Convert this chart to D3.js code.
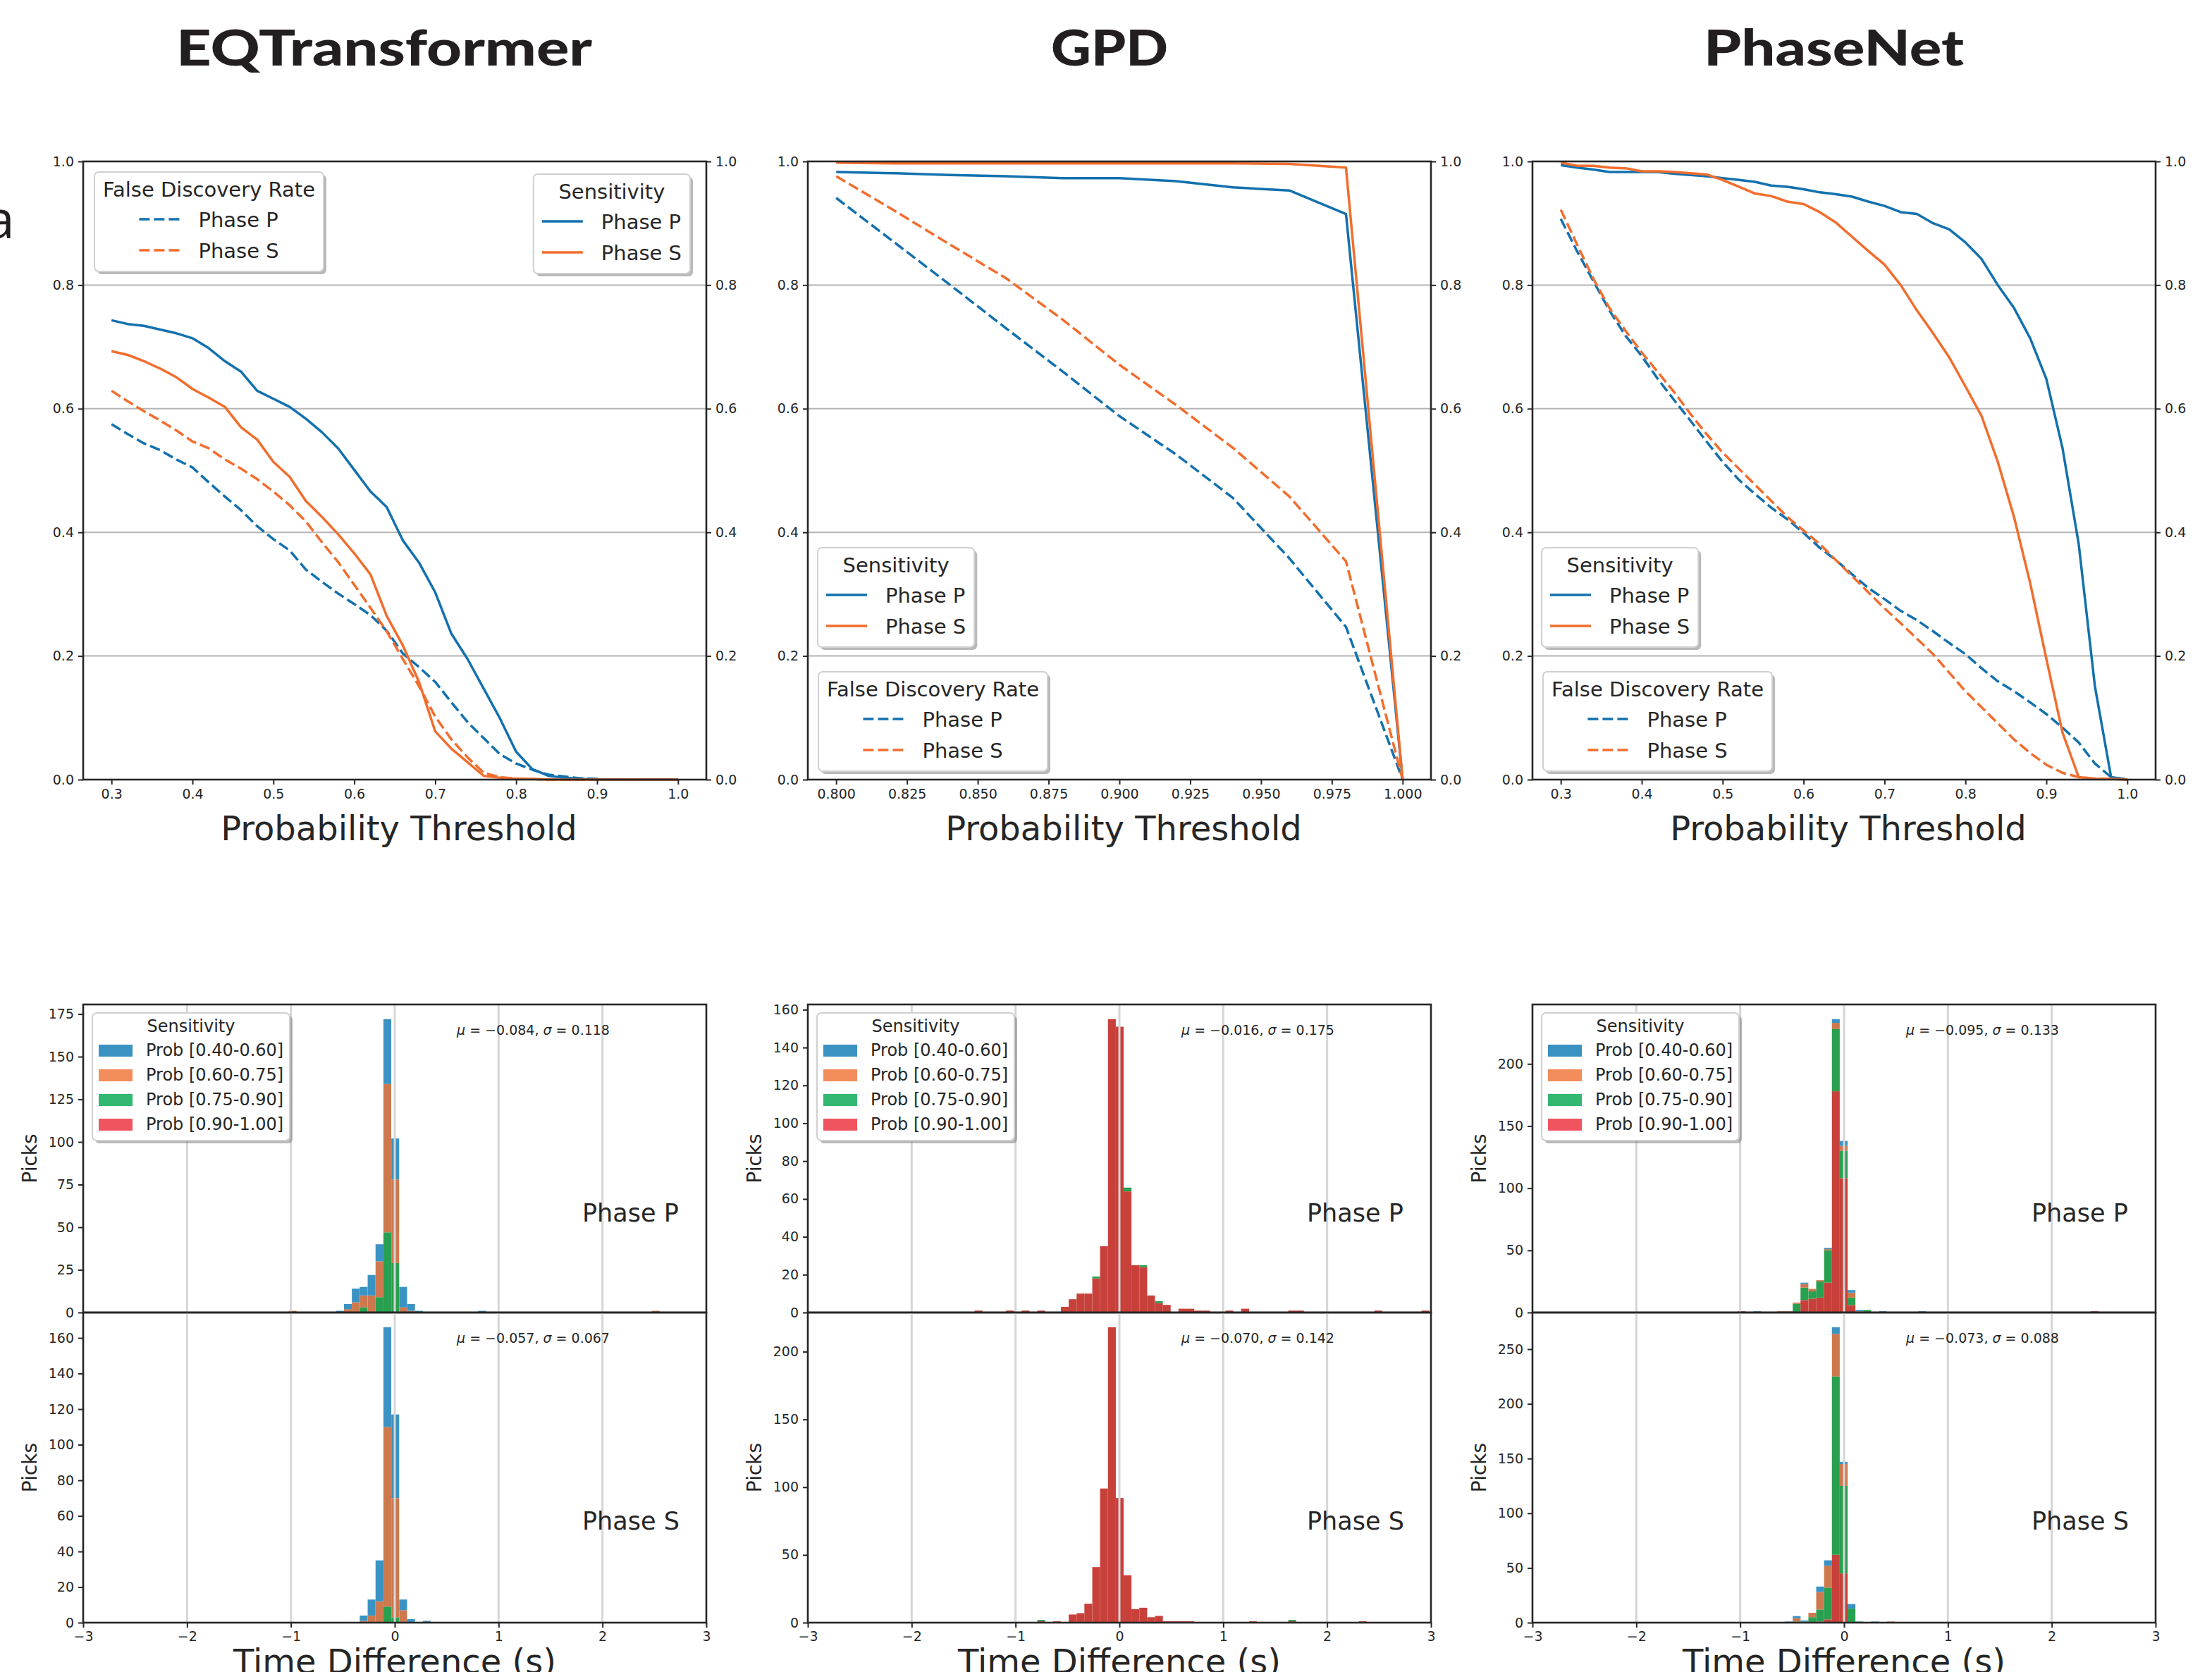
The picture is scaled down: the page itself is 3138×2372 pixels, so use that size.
<!DOCTYPE html>
<html><head><meta charset="utf-8">
<script src="https://cdn.jsdelivr.net/npm/d3@7"></script>
<style>
body{margin:0;background:#fff}
svg{display:block;background:#fff}
</style>
</head><body>
<svg id="c" width="3138" height="2372"></svg>
<script>
// ---------------- DATA ----------------
const models = ["EQTransformer", "GPD", "PhaseNet"];
const thresholdsWide = [0.30,0.32,0.34,0.36,0.38,0.40,0.42,0.44,0.46,0.48,0.50,0.52,0.54,0.56,0.58,0.60,0.62,0.64,0.66,0.68,0.70,0.72,0.74,0.76,0.78,0.80,0.82,0.84,0.86,0.88,0.90,0.92,0.94,0.96,0.98,1.00];
const thresholdsGPD = [0.80,0.82,0.84,0.86,0.88,0.90,0.92,0.94,0.96,0.98,1.00];

const eqtSensP = [0.743,0.737,0.734,0.728,0.722,0.714,0.698,0.677,0.660,0.629,0.616,0.603,0.584,0.562,0.536,0.501,0.466,0.441,0.387,0.351,0.303,0.236,0.195,0.147,0.099,0.045,0.017,0.006,0.003,0.001,0,0,0,0,0,0];
const eqtSensS = [0.693,0.687,0.677,0.665,0.651,0.632,0.618,0.603,0.570,0.550,0.514,0.490,0.451,0.425,0.397,0.366,0.332,0.265,0.217,0.158,0.078,0.050,0.028,0.006,0.003,0.0015,0.001,0,0,0,0,0,0,0,0,0];
const eqtFdrP = [0.575,0.559,0.544,0.533,0.518,0.505,0.481,0.458,0.436,0.410,0.389,0.371,0.340,0.320,0.301,0.284,0.266,0.241,0.204,0.182,0.158,0.125,0.093,0.067,0.041,0.026,0.016,0.008,0.005,0.002,0.001,0,0,0,0,0];
const eqtFdrS = [0.629,0.612,0.596,0.581,0.565,0.547,0.536,0.518,0.503,0.486,0.466,0.444,0.418,0.384,0.352,0.315,0.278,0.240,0.195,0.151,0.102,0.065,0.036,0.011,0.004,0.0015,0.001,0,0,0,0,0,0,0,0,0];

const gpdSensP = [0.983,0.981,0.978,0.976,0.973,0.973,0.968,0.958,0.953,0.915,0];
const gpdSensS = [0.998,0.997,0.997,0.997,0.997,0.997,0.997,0.997,0.996,0.990,0];
const gpdFdrP = [0.941,0.871,0.801,0.730,0.660,0.588,0.526,0.456,0.358,0.247,0];
const gpdFdrS = [0.976,0.922,0.866,0.811,0.744,0.671,0.606,0.537,0.458,0.353,0];

const pnSensP = [0.994,0.990,0.987,0.983,0.983,0.983,0.983,0.980,0.978,0.976,0.973,0.970,0.967,0.961,0.959,0.955,0.950,0.947,0.943,0.935,0.928,0.918,0.915,0.900,0.890,0.869,0.842,0.800,0.763,0.714,0.648,0.536,0.381,0.151,0.004,0];
const pnSensS = [0.998,0.993,0.993,0.990,0.989,0.984,0.984,0.983,0.981,0.979,0.970,0.959,0.948,0.944,0.935,0.931,0.918,0.901,0.878,0.855,0.833,0.800,0.759,0.722,0.683,0.636,0.588,0.514,0.425,0.318,0.195,0.076,0.004,0.0015,0.001,0];
const pnFdrP = [0.907,0.855,0.807,0.759,0.718,0.685,0.648,0.614,0.581,0.547,0.514,0.485,0.462,0.440,0.421,0.399,0.375,0.355,0.332,0.310,0.292,0.273,0.258,0.240,0.221,0.203,0.180,0.159,0.143,0.125,0.106,0.084,0.060,0.026,0.004,0];
const pnFdrS = [0.922,0.866,0.811,0.763,0.726,0.691,0.659,0.627,0.592,0.559,0.529,0.503,0.477,0.451,0.425,0.403,0.381,0.355,0.329,0.303,0.277,0.253,0.228,0.203,0.173,0.143,0.117,0.091,0.065,0.043,0.024,0.011,0.004,0.0015,0.001,0];

const ticksWide = [0.3,0.4,0.5,0.6,0.7,0.8,0.9,1.0];
const ticksGPD = [0.800,0.825,0.850,0.875,0.900,0.925,0.950,0.975,1.000];
const ticksY = [0.0,0.2,0.4,0.6,0.8,1.0];

// histogram bins: [left edge (s), Prob[0.40-0.60], Prob[0.60-0.75], Prob[0.75-0.90], Prob[0.90-1.00]]
const binWidth = 0.0755;
const probClasses = ["Prob [0.40-0.60]", "Prob [0.60-0.75]", "Prob [0.75-0.90]", "Prob [0.90-1.00]"];
const eqtHistP = [[-1.021,0,1,0,0],[-0.565,1,0,0,0],[-0.489,3,2,0,0],[-0.413,8,6,0,0],[-0.337,5,7,3,0],[-0.261,12,10,0,0],[-0.185,10,21,9,0],[-0.109,38,87,47,0],[-0.033,24,49,29,0],[0.043,12,3,0,0],[0.119,4,1,0,0],[0.195,1,0,0,0],[0.803,1,0,0,0],[2.475,0,1,0,0]];
const eqtHistS = [[-0.337,3,1,0,0],[-0.261,9,4,0,0],[-0.185,23,12,0,0],[-0.109,56,101,9,0],[-0.033,47,67,3,0],[0.043,6,7,0,0],[0.119,2,0,0,0],[0.271,1,0,0,0]];
const gpdHistP = [[-1.394,0,0,0,1],[-1.092,0,0,0,1],[-0.941,0,0,0,1],[-0.790,0,0,0,1],[-0.563,0,0,0,3],[-0.488,0,0,0,7],[-0.412,0,0,0,10],[-0.337,0,0,0,10],[-0.261,0,0,1,18],[-0.186,0,0,0,35],[-0.110,0,0,0,155],[-0.035,0,0,0,151],[0.041,0,0,2,64],[0.116,0,0,0,25],[0.192,0,0,1,24],[0.267,0,0,0,9],[0.343,0,0,1,5],[0.418,0,0,0,4],[0.569,0,0,0,2],[0.645,0,0,0,2],[0.720,0,0,0,1],[0.796,0,0,0,1],[1.022,0,0,0,1],[1.173,0,0,0,2],[1.626,0,0,0,1],[1.701,0,0,0,1],[2.456,0,0,0,1],[2.909,0,0,0,1]];
const gpdHistS = [[-0.790,0,0,1,1],[-0.639,0,0,0,1],[-0.488,0,0,0,6],[-0.412,0,0,0,7],[-0.337,0,0,0,14],[-0.261,0,0,0,41],[-0.186,0,0,0,99],[-0.110,0,0,0,218],[-0.035,0,0,0,92],[0.041,0,0,0,35],[0.116,0,0,0,10],[0.192,0,0,0,11],[0.267,0,0,0,4],[0.343,0,0,0,5],[0.418,0,0,0,1],[0.494,0,0,0,1],[0.569,0,0,0,1],[0.645,0,0,0,1],[1.248,0,0,0,1],[1.626,0,0,1,1],[2.306,0,0,0,1]];
const pnHistP = [[-1.023,0,0,0,1],[-0.872,1,0,0,0],[-0.645,0,1,0,0],[-0.570,0,1,0,0],[-0.494,0,1,7,0],[-0.419,1,3,10,10],[-0.343,0,2,6,11],[-0.268,0,1,13,12],[-0.192,1,1,26,24],[-0.117,3,5,50,178],[-0.041,4,4,22,108],[0.034,2,4,6,6],[0.110,1,1,0,0],[0.185,0,0,2,0],[0.336,1,0,0,0],[0.714,1,0,0,0],[2.375,0,0,0,1]];
const pnHistS = [[-0.570,1,0,0,0],[-0.494,2,3,1,0],[-0.419,1,0,1,0],[-0.343,0,4,5,0],[-0.268,5,16,11,1],[-0.192,5,20,29,3],[-0.117,6,39,163,62],[-0.041,2,20,80,45],[0.034,4,0,13,0],[0.110,0,0,1,0],[0.261,1,0,0,0],[0.412,0,1,0,0]];

const statsP = [[-0.084,0.118],[-0.016,0.175],[-0.095,0.133]];
const statsS = [[-0.057,0.067],[-0.070,0.142],[-0.073,0.088]];
const histTicksP = [[0,25,50,75,100,125,150,175],[0,20,40,60,80,100,120,140,160],[0,50,100,150,200]];
const histTicksS = [[0,20,40,60,80,100,120,140,160],[0,50,100,150,200],[0,50,100,150,200,250]];
const histTicksX = [-3,-2,-1,0,1,2,3];

// ---------------- STYLE / LAYOUT ----------------
const FONT = "DejaVu Sans";
const INK = "#262626";
const cBlue = "#1371ae", cOrange = "#f26d2d";
const barColors = ["#3a93c3", "#ce784e", "#28a04f", "#c8403a"];
const swatchColors = ["#3a92c2", "#f48d5c", "#33b872", "#f0545e"];
const colLeft = [118, 1146, 2174];
const plotW = 884;
const topRange = [1106, 229];
const hP = [1862, 1425], hS = [2302, 1862];

const svg = d3.select("#c");
const root = svg.append("g").attr("font-family", FONT).attr("fill", INK);

function measure(str, fs) {
  const t = root.append("text").attr("font-size", fs).text(str);
  const w = t.node().getComputedTextLength(); t.remove(); return w;
}
function styleAxis(g, fs) {
  g.select(".domain").remove();
  g.selectAll(".tick line").attr("stroke", INK).attr("stroke-width", 2);
  g.selectAll(".tick text").attr("font-size", fs).attr("font-family", FONT).attr("fill", INK);
}

// panel label "a"
root.append("text").attr("x", -21).attr("y", 338).attr("font-family", "Open Sans")
  .attr("font-size", 75).attr("fill", "#231f20").text("a");

// titles
const titleBox = [[250, 590], [1491, 166], [2417, 369]];
models.forEach((m, i) => {
  root.append("text").attr("x", titleBox[i][0]).attr("y", 93)
    .attr("font-family", "Lato").attr("font-weight", 900).attr("font-size", 71)
    .attr("fill", "#231f20").attr("textLength", titleBox[i][1]).attr("lengthAdjust", "spacingAndGlyphs")
    .text(m);
});

// ---------------- TOP PANELS ----------------
const topPanels = [
  {t: thresholdsWide, sP: eqtSensP, sS: eqtSensS, fP: eqtFdrP, fS: eqtFdrS, xd: [0.265, 1.035], ticks: ticksWide, fmt: d3.format(".1f")},
  {t: thresholdsGPD, sP: gpdSensP, sS: gpdSensS, fP: gpdFdrP, fS: gpdFdrS, xd: [0.79, 1.01], ticks: ticksGPD, fmt: d3.format(".3f")},
  {t: thresholdsWide, sP: pnSensP, sS: pnSensS, fP: pnFdrP, fS: pnFdrS, xd: [0.265, 1.035], ticks: ticksWide, fmt: d3.format(".1f")}
];

function lineLegend(g, o) {
  const fs = 29;
  const tw = measure(o.title, fs);
  const lw = d3.max(o.items, d => measure(d.label, fs));
  const blockW = 58 + 26 + lw;
  const w = Math.max(tw, blockW) + 24, h = 141;
  const x = o.right != null ? o.right - w : o.x, y = o.y;
  g.append("rect").attr("x", x + 4).attr("y", y + 4).attr("width", w).attr("height", h).attr("rx", 6)
    .attr("fill", "#808080").attr("opacity", 0.55);
  g.append("rect").attr("x", x).attr("y", y).attr("width", w).attr("height", h).attr("rx", 6)
    .attr("fill", "#fff").attr("stroke", "#d0d0d0").attr("stroke-width", 2);
  const cx = x + w / 2;
  g.append("text").attr("x", cx).attr("y", y + 35).attr("text-anchor", "middle").attr("font-size", fs).text(o.title);
  const bl = cx - blockW / 2;
  o.items.forEach((d, i) => {
    const by = y + 78 + 44 * i;
    g.append("line").attr("x1", bl).attr("x2", bl + 58).attr("y1", by - 11).attr("y2", by - 11)
      .attr("stroke", d.color).attr("stroke-width", 3.5).attr("stroke-dasharray", d.dash ? "15,6" : null);
    g.append("text").attr("x", bl + 84).attr("y", by).attr("font-size", fs).text(d.label);
  });
}
const sensItems = [{label: "Phase P", color: cBlue}, {label: "Phase S", color: cOrange}];
const fdrItems = [{label: "Phase P", color: cBlue, dash: true}, {label: "Phase S", color: cOrange, dash: true}];
const legendPos = [
  [{title: "False Discovery Rate", items: fdrItems, x: 134, y: 244}, {title: "Sensitivity", items: sensItems, right: 979, y: 247}],
  [{title: "Sensitivity", items: sensItems, x: 1160, y: 777}, {title: "False Discovery Rate", items: fdrItems, x: 1161, y: 953}],
  [{title: "Sensitivity", items: sensItems, x: 2187, y: 777}, {title: "False Discovery Rate", items: fdrItems, x: 2189, y: 953}]
];

topPanels.forEach((p, i) => {
  const L = colLeft[i];
  const g = root.append("g");
  const x = d3.scaleLinear().domain(p.xd).range([L, L + plotW]);
  const y = d3.scaleLinear().domain([0, 1]).range(topRange);
  // grid
  g.selectAll(".gy").data(ticksY.slice(1, -1)).join("line")
    .attr("x1", L).attr("x2", L + plotW).attr("y1", d => y(d)).attr("y2", d => y(d))
    .attr("stroke", "#b4b4b4").attr("stroke-width", 2);
  const series = [
    {v: p.fP, c: cBlue, dash: true}, {v: p.fS, c: cOrange, dash: true},
    {v: p.sP, c: cBlue, dash: false}, {v: p.sS, c: cOrange, dash: false}
  ];
  const line = d3.line().x(d => x(d[0])).y(d => y(d[1]));
  series.forEach(s => {
    g.append("path").attr("d", line(p.t.map((t, k) => [t, s.v[k]])))
      .attr("fill", "none").attr("stroke", s.c).attr("stroke-width", 3.5)
      .attr("stroke-linejoin", "round").attr("stroke-dasharray", s.dash ? "15,6" : null);
  });
  // axes
  g.append("g").attr("transform", `translate(0,${topRange[0]})`)
    .call(d3.axisBottom(x).tickValues(p.ticks).tickFormat(p.fmt).tickSize(7).tickPadding(7))
    .call(a => styleAxis(a, 19));
  g.append("g").attr("transform", `translate(${L},0)`)
    .call(d3.axisLeft(y).tickValues(ticksY).tickFormat(d3.format(".1f")).tickSize(7).tickPadding(6))
    .call(a => styleAxis(a, 19));
  g.append("g").attr("transform", `translate(${L + plotW},0)`)
    .call(d3.axisRight(y).tickValues(ticksY).tickFormat(d3.format(".1f")).tickSize(7).tickPadding(6))
    .call(a => styleAxis(a, 19));
  g.append("rect").attr("x", L).attr("y", topRange[1]).attr("width", plotW).attr("height", topRange[0] - topRange[1])
    .attr("fill", "none").attr("stroke", INK).attr("stroke-width", 2.6);
  g.append("text").attr("x", L + plotW / 2 + 6).attr("y", 1192).attr("text-anchor", "middle")
    .attr("font-size", 48).text("Probability Threshold");
  legendPos[i].forEach(o => lineLegend(g, o));
});

// ---------------- HISTOGRAMS ----------------
const histSets = [[eqtHistP, eqtHistS], [gpdHistP, gpdHistS], [pnHistP, pnHistS]];

function histLegend(g, x, y) {
  const w = 280, h = 181;
  g.append("rect").attr("x", x + 4).attr("y", y + 4).attr("width", w).attr("height", h).attr("rx", 6)
    .attr("fill", "#808080").attr("opacity", 0.55);
  g.append("rect").attr("x", x).attr("y", y).attr("width", w).attr("height", h).attr("rx", 6)
    .attr("fill", "#fff").attr("stroke", "#d0d0d0").attr("stroke-width", 2);
  g.append("text").attr("x", x + w / 2).attr("y", y + 27).attr("text-anchor", "middle").attr("font-size", 24).text("Sensitivity");
  probClasses.forEach((c, k) => {
    const by = y + 61 + 35 * k;
    g.append("rect").attr("x", x + 9).attr("y", by - 16).attr("width", 48).attr("height", 17).attr("fill", swatchColors[k]);
    g.append("text").attr("x", x + 76).attr("y", by).attr("font-size", 24).text(c);
  });
}

histSets.forEach((pair, i) => {
  const L = colLeft[i];
  const x = d3.scaleLinear().domain([-3, 3]).range([L, L + plotW]);
  pair.forEach((bins, j) => {
    const range = j === 0 ? hP : hS;
    const g = root.append("g");
    const maxTot = d3.max(bins, b => b[1] + b[2] + b[3] + b[4]);
    const y = d3.scaleLinear().domain([0, maxTot * 1.05]).range(range);
    // stacked bars: bottom->top = [0.90-1.00], [0.75-0.90], [0.60-0.75], [0.40-0.60]
    const order = [4, 3, 2, 1];
    const rects = [];
    bins.forEach(b => {
      let cum = 0;
      order.forEach(k => {
        if (b[k] > 0) { rects.push({x0: b[0], lo: cum, hi: cum + b[k], k: k - 1}); cum += b[k]; }
      });
    });
    g.selectAll("rect.bar").data(rects).join("rect").attr("class", "bar")
      .attr("x", d => x(d.x0)).attr("width", d => x(d.x0 + binWidth) - x(d.x0))
      .attr("y", d => y(d.hi)).attr("height", d => y(d.lo) - y(d.hi))
      .attr("fill", d => barColors[d.k]);
    // vertical grid over bars
    g.selectAll("line.gx").data([-2, -1, 0, 1, 2]).join("line").attr("class", "gx")
      .attr("x1", d => x(d)).attr("x2", d => x(d)).attr("y1", range[0]).attr("y2", range[1])
      .attr("stroke", "#d6d6d6").attr("stroke-width", 3);
    // y axis
    g.append("g").attr("transform", `translate(${L},0)`)
      .call(d3.axisLeft(y).tickValues(j === 0 ? histTicksP[i] : histTicksS[i]).tickFormat(d3.format("d")).tickSize(7).tickPadding(6))
      .call(a => styleAxis(a, 19));
    if (j === 1) {
      g.append("g").attr("transform", `translate(0,${range[0]})`)
        .call(d3.axisBottom(x).tickValues(histTicksX).tickFormat(d3.format("d")).tickSize(7).tickPadding(6))
        .call(a => styleAxis(a, 19));
    }
    g.append("rect").attr("x", L).attr("y", range[1]).attr("width", plotW).attr("height", range[0] - range[1])
      .attr("fill", "none").attr("stroke", INK).attr("stroke-width", 2.6);
    // Picks label
    const cy = (range[0] + range[1]) / 2;
    g.append("text").attr("transform", `translate(${L - 66},${cy}) rotate(-90)`).attr("text-anchor", "middle")
      .attr("font-size", 28).text("Picks");
    // phase label
    g.append("text").attr("x", L + 708).attr("y", range[1] + 308).attr("font-size", 35).text(j === 0 ? "Phase P" : "Phase S");
    // stats
    const st = j === 0 ? statsP[i] : statsS[i];
    const f3 = d3.format(".3f");
    const tx = g.append("text").attr("x", L + 530).attr("y", range[1] + 43).attr("font-size", 19);
    tx.append("tspan").attr("font-style", "italic").text("μ");
    tx.append("tspan").text(" = " + f3(st[0]) + ",  ");
    tx.append("tspan").attr("font-style", "italic").text("σ");
    tx.append("tspan").text(" = " + f3(st[1]));
    if (j === 0) histLegend(g, L + 13, 1437);
  });
  root.append("text").attr("x", L + plotW / 2).attr("y", 2374).attr("text-anchor", "middle")
    .attr("font-size", 48).text("Time Difference (s)");
});
</script>
</body></html>
